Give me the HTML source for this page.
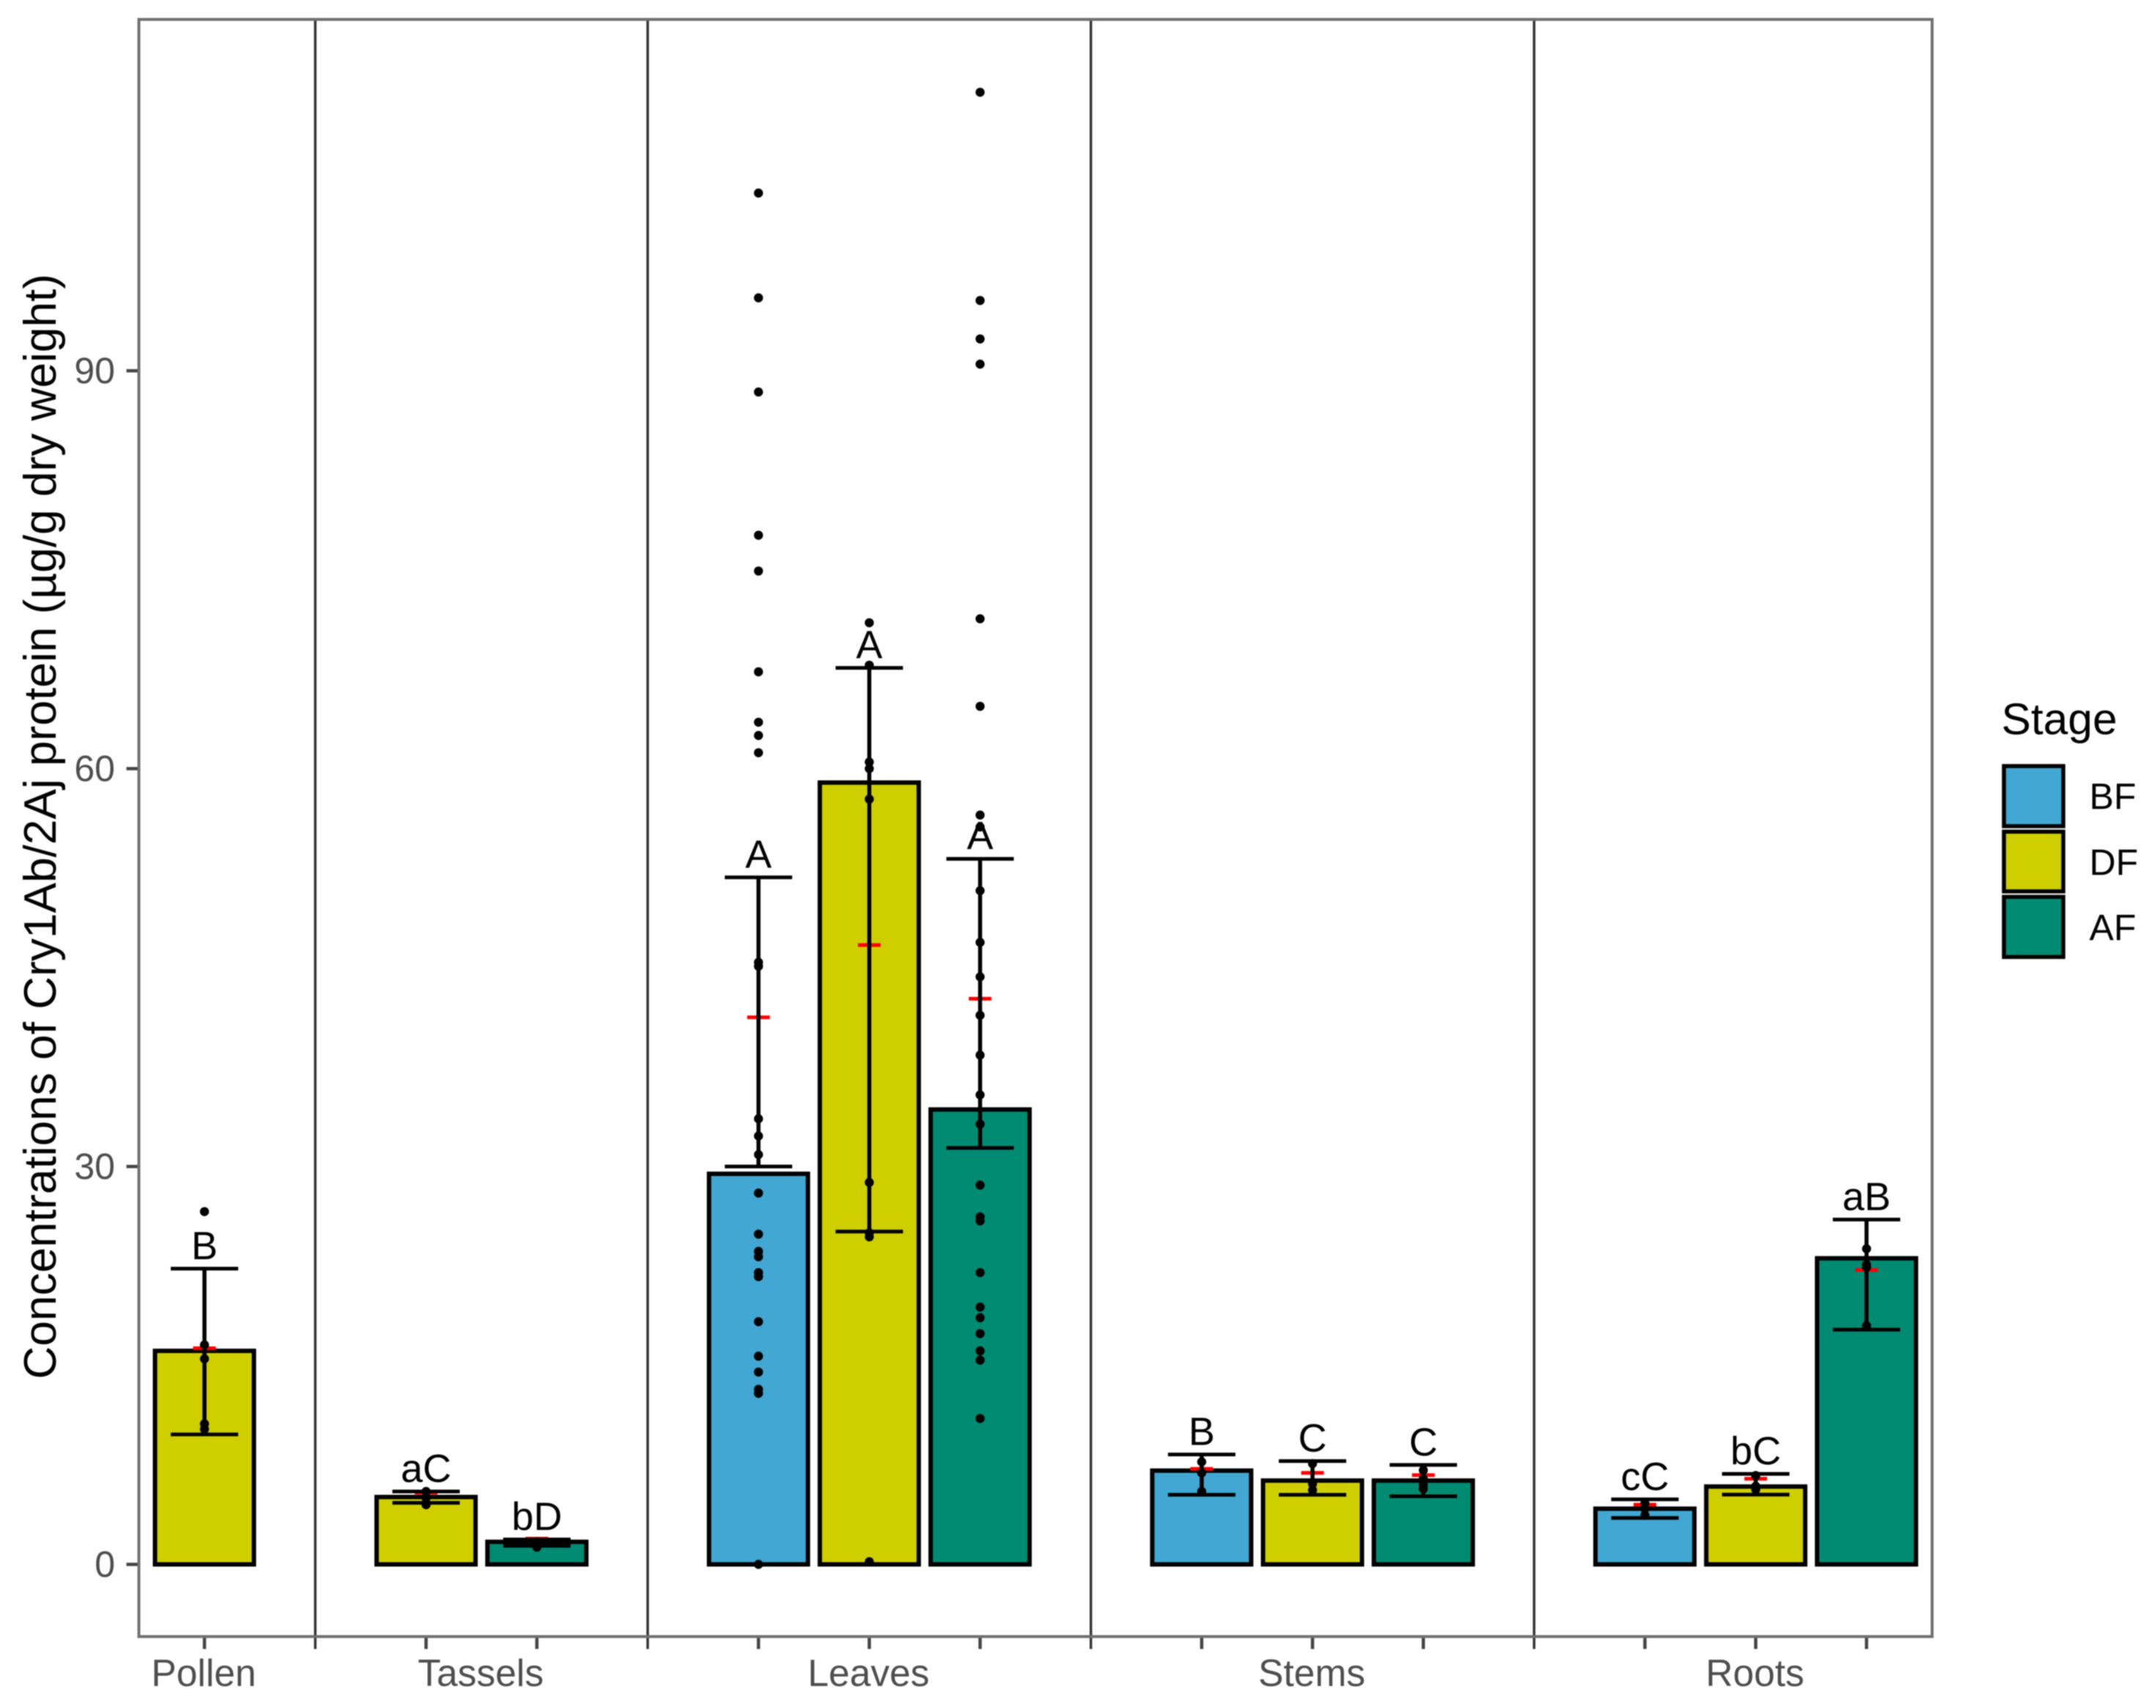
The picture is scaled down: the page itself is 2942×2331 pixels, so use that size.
<!DOCTYPE html>
<html lang="en">
<head>
<meta charset="utf-8">
<title>Concentrations of Cry1Ab/2Aj protein by tissue and stage</title>
<style>
  html, body { margin: 0; padding: 0; background: #fff; }
  #chart { display: block; width: 2942px; height: 2331px; filter: blur(0.7px); font-family: "Liberation Sans", Arial, sans-serif; }
</style>
</head>
<body>
<svg id="chart" xmlns="http://www.w3.org/2000/svg" width="2942" height="2331" viewBox="0 0 2942 2331">
  <rect x="0" y="0" width="2942" height="2331" fill="#ffffff"/>
  <g id="marks"></g>
  <g id="axes"></g>
  <rect x="189.5" y="26.5" width="2447" height="2207" fill="none" stroke="#707070" stroke-width="4"/>
  <text transform="translate(76 1128) rotate(-90)" text-anchor="middle" font-size="62.2" fill="#000000">Concentrations of Cry1Ab/2Aj protein (µg/g dry weight)</text>
  <g>
    <text x="2731" y="1002" font-size="60.5" fill="#000000">Stage</text>
    <g>
      <rect x="2734.5" y="1045.5" width="81" height="82" fill="#42A7D2" stroke="#000000" stroke-width="5.5"/>
      <text x="2851" y="1104" font-size="50" fill="#000000">BF</text>
    </g>
    <g>
      <rect x="2734.5" y="1135" width="81" height="81.5" fill="#CFCF00" stroke="#000000" stroke-width="5.5"/>
      <text x="2851" y="1194" font-size="50" fill="#000000">DF</text>
    </g>
    <g>
      <rect x="2734.5" y="1224" width="81" height="82" fill="#008B72" stroke="#000000" stroke-width="5.5"/>
      <text x="2851" y="1283" font-size="50" fill="#000000">AF</text>
    </g>
  </g>
</svg>
<script>
// ----- Chart data -----
const organs = ['Pollen', 'Tassels', 'Leaves', 'Stems', 'Roots'];
const organStages = [['DF'], ['DF', 'AF'], ['BF', 'DF', 'AF'], ['BF', 'DF', 'AF'], ['BF', 'DF', 'AF']];
const yTickValues = [0, 30, 60, 90];
// One value per bar, in organ then stage order
const barHeights = [16.1, 5.08, 1.7, 29.45, 58.95, 34.3, 7.07, 6.32, 6.32, 4.2, 5.87, 23.08];
const upperCaps = [22.3, 5.5, 1.88, 51.8, 67.6, 53.2, 8.29, 7.79, 7.5, 4.9, 6.82, 26.0];
const lowerCaps = [9.8, 4.64, 1.4, 30.0, 25.1, 31.4, 5.25, 5.25, 5.14, 3.5, 5.26, 17.7];
const meanMarks = [16.3, 5.4, 1.94, 41.25, 46.7, 42.65, 7.2, 6.9, 6.73, 4.5, 6.46, 22.2];
const sigLabels = ['B', 'aC', 'bD', 'A', 'A', 'A', 'B', 'C', 'C', 'cC', 'bC', 'aB'];
const pollenDfPoints = [26.6, 16.55, 15.5, 10.6, 10.2];
const tasselsDfPoints = [5.5, 5.0, 4.5];
const tasselsAfPoints = [1.7, 1.3];
const leavesBfPoints = [103.4, 95.5, 88.4, 77.6, 74.9, 67.3, 63.5, 62.5, 61.2, 45.4, 45.1, 33.6, 32.3, 30.9, 28.0, 24.9, 23.6, 23.2, 22.0, 21.7, 18.3, 15.7, 14.5, 13.2, 12.9, 0];
const leavesDfPoints = [71, 67.8, 60.5, 60.0, 57.7, 28.8, 25.0, 24.7, 0.2];
const leavesAfPoints = [111, 95.3, 92.4, 90.5, 71.3, 64.7, 56.5, 55.6, 50.8, 46.9, 44.3, 41.4, 38.4, 35.4, 33.2, 28.6, 26.2, 25.9, 22, 19.4, 18.6, 17.4, 16.1, 15.4, 11.0];
const stemsBfPoints = [7.73, 6.9, 5.5];
const stemsDfPoints = [7.6, 6.08, 5.6];
const stemsAfPoints = [7.1, 6.45, 6.0, 5.7];
const rootsBfPoints = [4.6, 4.2, 3.7];
const rootsDfPoints = [6.7, 5.9, 5.65];
const rootsAfPoints = [23.8, 22.6, 22.4, 18.0];
const pointsByBar = [pollenDfPoints, tasselsDfPoints, tasselsAfPoints, leavesBfPoints, leavesDfPoints, leavesAfPoints, stemsBfPoints, stemsDfPoints, stemsAfPoints, rootsBfPoints, rootsDfPoints, rootsAfPoints];
const stageFill = { BF: '#42A7D2', DF: '#CFCF00', AF: '#008B72' };

// ----- Axis functions -----
const SVGNS = 'http://www.w3.org/2000/svg';
function xAt(slot) { return 279 + 151.2 * slot; }
function yAt(v) { return 2135 - 18.1 * v; }
function shape(tag, attrs) {
  const el = document.createElementNS(SVGNS, tag);
  for (const k in attrs) el.setAttribute(k, attrs[k]);
  return el;
}
const marks = document.getElementById('marks');
const axes = document.getElementById('axes');
const PANEL_TOP = 26.5, PANEL_BOTTOM = 2233.5, PANEL_LEFT = 189.5;

// y axis
yTickValues.forEach(function (v) {
  const tick = shape('line', { x1: PANEL_LEFT - 17, x2: PANEL_LEFT, y1: yAt(v), y2: yAt(v), stroke: '#444444', 'stroke-width': 4.5 });
  
  
  axes.appendChild(tick);
  const label = shape('text', { x: 157, y: yAt(v) + 17, 'text-anchor': 'end', 'font-size': 50, fill: '#4D4D4D' });
  
  
  label.textContent = String(v);
  axes.appendChild(label);
});

// facets, bars, and their decorations
let slot = 0;
let barIndex = 0;
organs.forEach(function (organ, f) {
  const stages = organStages[f];
  const firstSlot = slot;
  stages.forEach(function (stage) {
    const x = xAt(slot);
    const id = organ.toLowerCase() + '-' + stage.toLowerCase();
    const i = barIndex;

    const bar = shape('rect', { x: x - 67.5, y: yAt(barHeights[i]), width: 135, height: yAt(0) - yAt(barHeights[i]), fill: stageFill[stage], stroke: '#000000', 'stroke-width': 6 });
    
    
    marks.appendChild(bar);

    const mean = shape('line', { x1: x - 15.5, x2: x + 15.5, y1: yAt(meanMarks[i]), y2: yAt(meanMarks[i]), stroke: '#FF0000', 'stroke-width': 5 });
    
    
    marks.appendChild(mean);

    const stem = shape('line', { x1: x, x2: x, y1: yAt(upperCaps[i]), y2: yAt(lowerCaps[i]), stroke: '#000000', 'stroke-width': 5.5 });
    
    
    marks.appendChild(stem);

    const capTop = shape('line', { x1: x - 46, x2: x + 46, y1: yAt(upperCaps[i]), y2: yAt(upperCaps[i]), stroke: '#000000', 'stroke-width': 5 });
    
    
    marks.appendChild(capTop);

    const capBottom = shape('line', { x1: x - 46, x2: x + 46, y1: yAt(lowerCaps[i]), y2: yAt(lowerCaps[i]), stroke: '#000000', 'stroke-width': 5 });
    
    
    marks.appendChild(capBottom);

    pointsByBar[i].forEach(function (v) {
      const dot = shape('circle', { cx: x, cy: yAt(v), r: 6.2, fill: '#000000' });
      
      
      marks.appendChild(dot);
    });

    const sig = shape('text', { x: x, y: yAt(upperCaps[i]) - 13, 'text-anchor': 'middle', 'font-size': 54, fill: '#000000' });
    
    
    sig.textContent = sigLabels[i];
    marks.appendChild(sig);

    const tick = shape('line', { x1: x, x2: x, y1: PANEL_BOTTOM, y2: PANEL_BOTTOM + 17, stroke: '#444444', 'stroke-width': 4.5 });
    
    
    axes.appendChild(tick);

    slot += 1;
    barIndex += 1;
  });

  const label = shape('text', { x: xAt((firstSlot + slot - 1) / 2) - 1, y: 2301, 'text-anchor': 'middle', 'font-size': 51.5, fill: '#4D4D4D' });
  
  
  label.textContent = organ;
  axes.appendChild(label);

  if (f < organs.length - 1) {
    const sep = shape('line', { x1: xAt(slot), x2: xAt(slot), y1: PANEL_TOP, y2: PANEL_BOTTOM + 17, stroke: '#333333', 'stroke-width': 3.5 });
    
    
    axes.appendChild(sep);
    slot += 1;
  }
});
</script>
</body>
</html>
